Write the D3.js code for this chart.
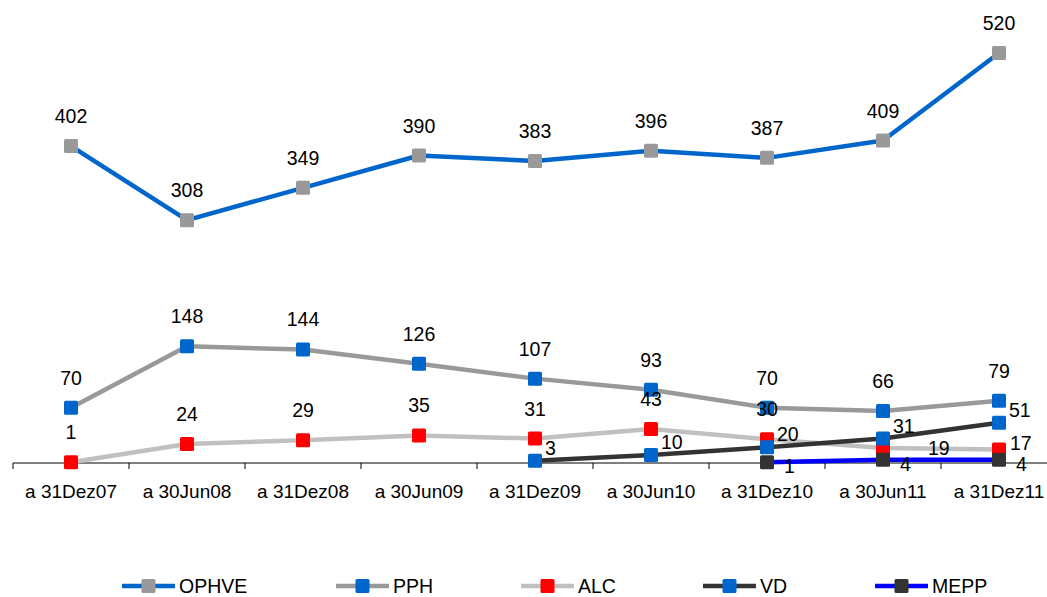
<!DOCTYPE html>
<html>
<head>
<meta charset="utf-8">
<script src="https://cdn.jsdelivr.net/npm/d3@7"></script>
<style>
  html, body { margin: 0; padding: 0; background: #fff; }
  svg text { font-family: "Liberation Sans", Arial, sans-serif; fill: #000; }
</style>
</head>
<body>
<svg id="chart" width="1047" height="597"></svg>
<script>
// ---- data ----
const categories = ["a 31Dez07", "a 30Jun08", "a 31Dez08", "a 30Jun09", "a 31Dez09", "a 30Jun10", "a 31Dez10", "a 30Jun11", "a 31Dez11"];
const seriesNames = ["OPHVE", "PPH", "ALC", "VD", "MEPP"];
const ophve = [402, 308, 349, 390, 383, 396, 387, 409, 520];
const pph   = [70, 148, 144, 126, 107, 93, 70, 66, 79];
const alc   = [1, 24, 29, 35, 31, 43, 30, 19, 17];
const vd    = [null, null, null, null, 3, 10, 20, 31, 51];
const mepp  = [null, null, null, null, null, null, 1, 4, 4];

// ---- styles ----
const styles = {
  OPHVE: { line: "#0066CC", marker: "#999999", label: "above" },
  PPH:   { line: "#999999", marker: "#0066CC", label: "above" },
  ALC:   { line: "#C0C0C0", marker: "#FF0000", label: "above" },
  VD:    { line: "#333333", marker: "#0066CC", label: "right" },
  MEPP:  { line: "#0000FF", marker: "#333333", label: "below" }
};
// a couple of manually moved labels (ALC last two points)
const alcLabelOverride = { 7: { dx: 45, dy: 7 }, 8: { dx: 11, dy: 0 } };

const values = { OPHVE: ophve, PPH: pph, ALC: alc, VD: vd, MEPP: mepp };

const svg = d3.select("#chart");
const x = d3.scaleBand().domain(categories).range([13, 13 + 116 * categories.length]).padding(0);
const y = d3.scaleLinear().domain([0, 520]).range([463, 53]);
const cx = c => x(c) + x.bandwidth() / 2;

// axis
const axisG = svg.append("g").attr("transform", `translate(0,${y(0)})`);
axisG.append("line").attr("x1", 13).attr("x2", 1047).attr("y1", 0).attr("y2", 0)
  .attr("stroke", "#000").attr("stroke-width", 1);
categories.forEach(c => {
  axisG.append("line").attr("x1", x(c)).attr("x2", x(c)).attr("y1", 0).attr("y2", 6)
    .attr("stroke", "#000").attr("stroke-width", 1);
  axisG.append("text").attr("x", cx(c)).attr("y", 35).attr("text-anchor", "middle")
    .style("font-size", "19px").text(c);
});

const fontSize = "19.5px";
const mSize = 14;

seriesNames.forEach(name => {
  const st = styles[name];
  const pts = values[name].map((v, i) => ({ v, i, c: categories[i] })).filter(d => d.v !== null);
  const line = d3.line().x(d => cx(d.c)).y(d => y(d.v));
  svg.append("path").datum(pts).attr("d", line).attr("fill", "none")
    .attr("stroke", st.line).attr("stroke-width", 4.5).attr("stroke-linejoin", "round");
  svg.append("g").selectAll("rect").data(pts).join("rect")
    .attr("x", d => cx(d.c) - mSize / 2).attr("y", d => y(d.v) - mSize / 2)
    .attr("width", mSize).attr("height", mSize).attr("rx", 1.5)
    .attr("fill", st.marker);
});

// labels drawn on top
seriesNames.forEach(name => {
  const st = styles[name];
  const pts = values[name].map((v, i) => ({ v, i, c: categories[i] })).filter(d => d.v !== null);
  pts.forEach(d => {
    const px = cx(d.c), py = y(d.v);
    const t = svg.append("text").style("font-size", fontSize).text(d.v);
    if (name === "ALC" && alcLabelOverride[d.i]) {
      const o = alcLabelOverride[d.i];
      t.attr("x", px + o.dx).attr("y", py + o.dy).attr("text-anchor", "start");
    } else if (st.label === "above") {
      t.attr("x", px).attr("y", py - 23).attr("text-anchor", "middle");
    } else if (st.label === "right") {
      t.attr("x", px + 10).attr("y", py - 6).attr("text-anchor", "start");
    } else {
      t.attr("x", px + 17).attr("y", py + 11).attr("text-anchor", "start");
    }
  });
});

// legend
const legendX = [122, 336, 521, 703, 875];
const legendY = 586;
seriesNames.forEach((name, k) => {
  const st = styles[name];
  const g = svg.append("g").attr("transform", `translate(${legendX[k]},${legendY})`);
  g.append("line").attr("x1", 0).attr("x2", 53).attr("y1", 0).attr("y2", 0)
    .attr("stroke", st.line).attr("stroke-width", 4.5);
  g.append("rect").attr("x", 26.5 - mSize / 2).attr("y", -mSize / 2).attr("width", mSize).attr("height", mSize)
    .attr("rx", 1.5).attr("fill", st.marker);
  g.append("text").attr("x", 57).attr("y", 7).style("font-size", fontSize).text(name);
});
</script>
</body>
</html>
